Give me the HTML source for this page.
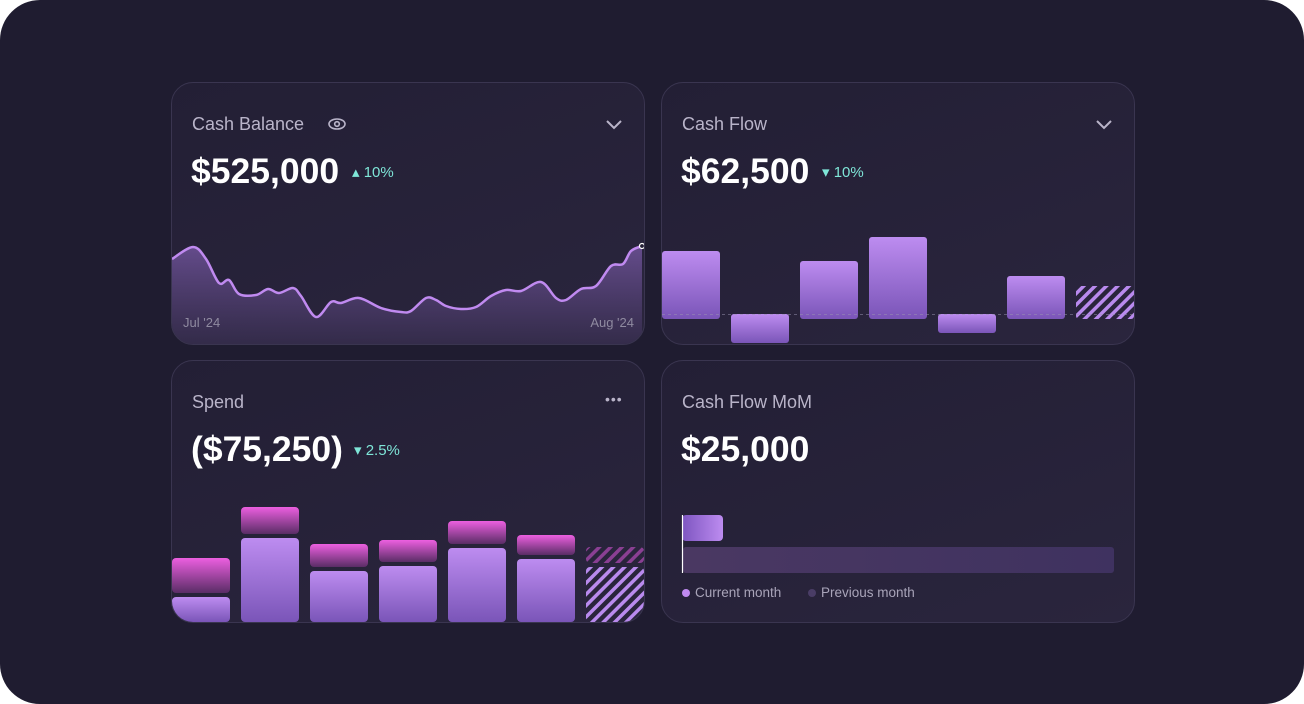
<!DOCTYPE html>
<html><head><meta charset="utf-8"><style>
*{margin:0;padding:0;box-sizing:border-box}
body{width:1304px;height:704px;background:#fff;font-family:"Liberation Sans",sans-serif;overflow:hidden}
#bg{position:absolute;left:0;top:0;width:1304px;height:704px;border-radius:40px;background:#1f1c30}
.card{position:absolute;width:474px;height:263px;border-radius:22px;background:linear-gradient(160deg,#231f35,#2a253d);border:1px solid #3a3550;overflow:hidden}
.title{position:absolute;left:20px;top:31px;font-size:18px;color:#b9b4c9}
.big{position:absolute;left:19px;top:68px;font-size:35.5px;font-weight:bold;color:#fff}
.pct{position:absolute;top:80px;font-size:15px;color:#7fe6d8}
.icon{position:absolute;color:#b9b4c9}
svg{position:absolute;left:0;top:0}
</style></head><body>
<div id="bg"></div>

<div class="card" style="left:171px;top:82px">
 <svg width="474" height="263" id="lineSvg"></svg>
 <div class="title">Cash Balance</div>
 <svg style="left:155px;top:34px" width="20" height="14"><ellipse cx="10" cy="7" rx="8" ry="5" fill="none" stroke="#b9b4c9" stroke-width="1.6"/><circle cx="10" cy="7" r="2.3" fill="none" stroke="#b9b4c9" stroke-width="1.6"/></svg>
 <svg style="left:433px;top:36px" width="18" height="12"><path d="M2 2L9 9L16 2" fill="none" stroke="#b9b4c9" stroke-width="2"/></svg>
 <div class="big">$525,000</div>
 <div class="pct" style="left:180px">▴ 10%</div>
 <div style="position:absolute;left:11px;top:232px;font-size:13px;color:#8f8aa0">Jul '24</div>
 <div style="position:absolute;right:10px;top:232px;font-size:13px;color:#8f8aa0">Aug '24</div>
</div>

<div class="card" style="left:661px;top:82px">
 <svg width="474" height="263" id="flowSvg"></svg>
 <div class="title">Cash Flow</div>
 <svg style="left:433px;top:36px" width="18" height="12"><path d="M2 2L9 9L16 2" fill="none" stroke="#b9b4c9" stroke-width="2"/></svg>
 <div class="big">$62,500</div>
 <div class="pct" style="left:160px">▾ 10%</div>
</div>

<div class="card" style="left:171px;top:360px">
 <svg width="474" height="263" id="spendSvg"></svg>
 <div class="title">Spend</div>
 <div class="icon" style="left:433px;top:30px;font-size:14px;letter-spacing:1px">•••</div>
 <div class="big">($75,250)</div>
 <div class="pct" style="left:182px">▾ 2.5%</div>
</div>

<div class="card" style="left:661px;top:360px">
 <svg width="474" height="263" id="momSvg"></svg>
 <div class="title">Cash Flow MoM</div>
 <div class="big">$25,000</div>
 <div style="position:absolute;left:20px;top:224px;font-size:13.5px;color:#a9a4b9"><span style="display:inline-block;width:8px;height:8px;border-radius:50%;background:#c08af0;margin-right:5px"></span>Current month</div>
 <div style="position:absolute;left:146px;top:224px;font-size:13.5px;color:#a9a4b9"><span style="display:inline-block;width:8px;height:8px;border-radius:50%;background:#4a3d66;margin-right:5px"></span>Previous month</div>
</div>

<script>
const NS='http://www.w3.org/2000/svg';
const balance=[86,98,86,62,65,51,50,56,52,57,49,28,43,42,47,37,33,34,47,45,39,36,38,49,55,54,63,47,45,56,59,79,81,94,99];
const balanceX=[0,21,34,47,57,67,84,96,107,121,129,144,159,169,187,209,229,239,254,264,274,289,304,319,334,349,369,384,394,409,424,439,451,459,470];
const flow=[65,-27,55,79,-17,40,30];
const spendBase=[25,84,51,56,74,63,55];
const spendTop=[35,27,23,22,23,20,16];
const momValues=[41,431];
function el(t,a,p){const e=document.createElementNS(NS,t);for(const k in a)e.setAttribute(k,a[k]);p.appendChild(e);return e;}
function defs(svg){const d=el('defs',{},svg);
 let g=el('linearGradient',{id:'pg'+svg.id,x1:0,y1:0,x2:0,y2:1},d);el('stop',{offset:0,'stop-color':'#bd8cf0'},g);el('stop',{offset:1,'stop-color':'#7a55b8'},g);
 g=el('linearGradient',{id:'kg'+svg.id,x1:0,y1:0,x2:0,y2:1},d);el('stop',{offset:0,'stop-color':'#ec5fe0'},g);el('stop',{offset:1,'stop-color':'#5a2d66'},g);
 g=el('linearGradient',{id:'ag'+svg.id,x1:0,y1:0,x2:0,y2:1},d);el('stop',{offset:0,'stop-color':'#7a5aa8','stop-opacity':0.75},g);el('stop',{offset:1,'stop-color':'#3a3052','stop-opacity':0.6},g);
 const pt=el('pattern',{id:'hp'+svg.id,width:8,height:8,patternUnits:'userSpaceOnUse',patternTransform:'rotate(45)'},d);el('rect',{x:0,y:0,width:3.5,height:8,fill:'#b98aee'},pt);
 const pt2=el('pattern',{id:'hk'+svg.id,width:8,height:8,patternUnits:'userSpaceOnUse',patternTransform:'rotate(45)'},d);el('rect',{x:0,y:0,width:3.5,height:8,fill:'#8a3f93'},pt2);
}
(function(){const s=document.getElementById('lineSvg');defs(s);
 const x=i=>balanceX[i], y=v=>262-v;
 const P=balance.map((v,i)=>[x(i),y(v)]);
 let d='M'+P[0][0]+' '+P[0][1];
 for(let i=0;i<P.length-1;i++){const p0=P[Math.max(0,i-1)],p1=P[i],p2=P[i+1],p3=P[Math.min(P.length-1,i+2)];
  d+=` C${p1[0]+(p2[0]-p0[0])/6} ${p1[1]+(p2[1]-p0[1])/6} ${p2[0]-(p3[0]-p1[0])/6} ${p2[1]-(p3[1]-p1[1])/6} ${p2[0]} ${p2[1]}`;}
 const a=el('path',{d:d+` L${P[P.length-1][0]} 263 L0 263Z`,fill:'url(#ag'+s.id+')'},s);
 
 const l=el('path',{d:d,fill:'none',stroke:'#c08af0','stroke-width':2.5},s);
 
 const c=el('circle',{cx:P[P.length-1][0],cy:P[P.length-1][1],r:2.5,fill:'#231f35',stroke:'#fff','stroke-width':1.2},s);
 
})();
(function(){const s=document.getElementById('flowSvg');defs(s);
 const zero=233, bx=i=>i*69, w=58;
 flow.forEach((v,i)=>{const last=i===flow.length-1;
  const y=v>=0?zero-v:zero-2, h=Math.abs(v)+(v>=0?3:2);
  const r=el('rect',{x:bx(i),y:y,width:w,height:h,rx:3,fill:last?'url(#hp'+s.id+')':'url(#pg'+s.id+')'},s);
  });
 el('line',{x1:0,x2:474,y1:231.5,y2:231.5,stroke:'#9a94b0','stroke-opacity':0.5,'stroke-dasharray':'3 3','stroke-width':1},s);
})();
(function(){const s=document.getElementById('spendSvg');defs(s);
 const bottom=261, bx=i=>i*69, w=58;
 spendBase.forEach((v,i)=>{const last=i===spendBase.length-1;
  const r=el('rect',{x:bx(i),y:bottom-v,width:w,height:v,rx:4,fill:last?'url(#hp'+s.id+')':'url(#pg'+s.id+')'},s);
  
  const t=el('rect',{x:bx(i),y:bottom-v-4-spendTop[i],width:w,height:spendTop[i],rx:4,fill:last?'url(#hk'+s.id+')':'url(#kg'+s.id+')'},s);
  });
})();
(function(){const s=document.getElementById('momSvg');defs(s);
 const d=s.querySelector('defs');
 let g=el('linearGradient',{id:'cm',x1:0,y1:0,x2:1,y2:0},d);el('stop',{offset:0,'stop-color':'#7d55c0'},g);el('stop',{offset:1,'stop-color':'#bd8cf0'},g);
 g=el('linearGradient',{id:'pm',x1:0,y1:0,x2:1,y2:0},d);el('stop',{offset:0,'stop-color':'#4a3862'},g);el('stop',{offset:1,'stop-color':'#3f3260'},g);
 const r1=el('rect',{x:20,y:154,width:momValues[0],height:26,rx:4,fill:'url(#cm)'},s);
 
 const r2=el('rect',{x:21,y:186,width:momValues[1],height:26,rx:3,fill:'url(#pm)'},s);
 
 el('line',{x1:20.5,x2:20.5,y1:154,y2:212,stroke:'#fff','stroke-width':1.2},s);
})();
</script>
</body></html>
